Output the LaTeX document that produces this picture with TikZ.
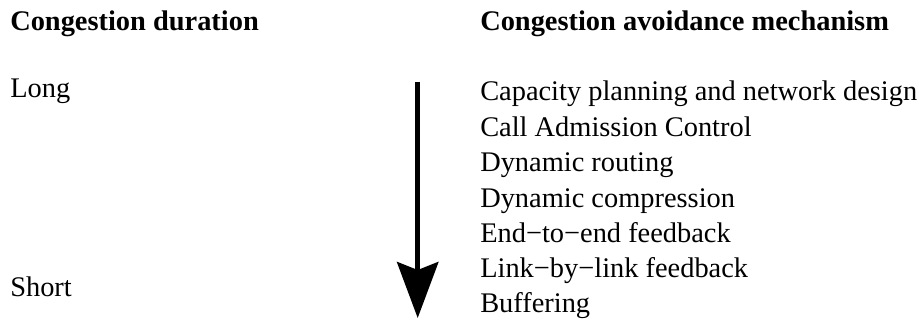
\documentclass[tikz,border=0pt]{standalone}
\usepackage{fontspec}
\setmainfont{Liberation Serif}
\usetikzlibrary{arrows.meta}
\begin{document}
\begin{tikzpicture}[x=0.75pt,y=-0.75pt,
  txt/.style={anchor=base west,inner sep=0pt,font=\fontsize{21.3}{25}\selectfont},
  head/.style={txt,font=\fontsize{21.3}{25}\selectfont\bfseries},
  bigarrow/.style={line width=3.5pt,-{Stealth[length=42pt,width=31pt,inset=6pt]}}]
\useasboundingbox (0,0) rectangle (919,322);
\node[head] (h1) at (10,30) {Congestion duration};
\node[head] (h2) at (480,30) {Congestion avoidance mechanism};
\node[txt] (long) at (10,97) {Long};
\node[txt] (short) at (10,296) {Short};
\node[txt] (m1) at (480,100.5) {Capacity planning and network design};
\node[txt] (m2) at (480,136) {Call Admission Control};
\node[txt] (m3) at (480,171.5) {Dynamic routing};
\node[txt] (m4) at (480,207) {Dynamic compression};
\node[txt] (m5) at (480,242) {End−to−end feedback};
\node[txt] (m6) at (480,277) {Link−by−link feedback};
\node[txt] (m7) at (480,312) {Buffering};
\coordinate (top) at (417.7,81.7);
\coordinate (bot) at (417.7,318);
\draw[bigarrow] (top) -- (bot);
\end{tikzpicture}
\end{document}
